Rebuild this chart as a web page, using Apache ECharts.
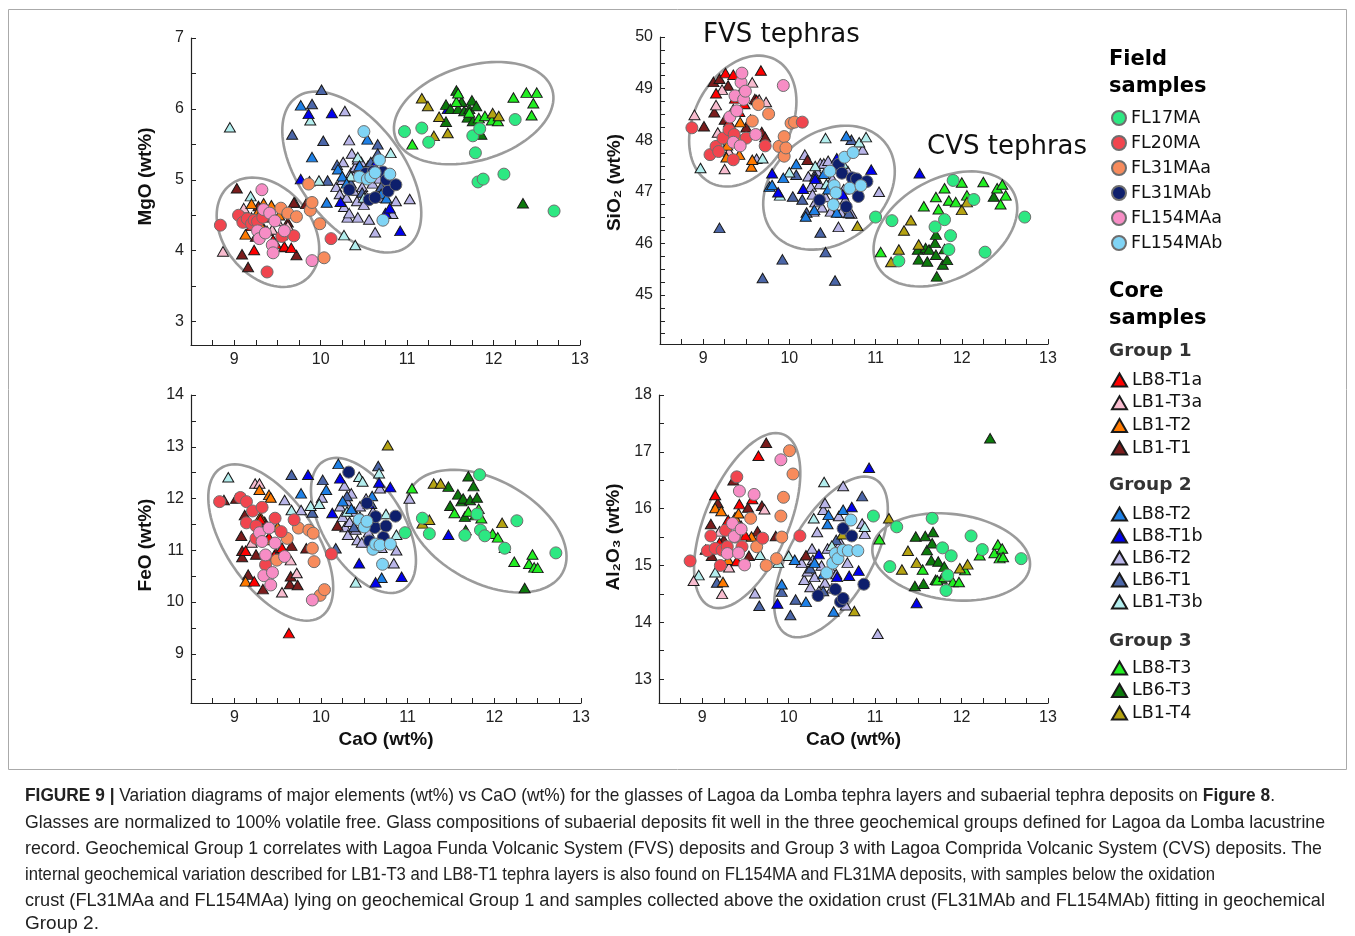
<!DOCTYPE html>
<html>
<head>
<meta charset="utf-8">
<script src="https://cdn.jsdelivr.net/npm/echarts@6/dist/echarts.min.js"></script>
<style>
html, body { margin: 0; padding: 0; background: #fff; }
#chart { position: absolute; left: 0; top: 0; width: 1355px; height: 936px; }
.cap { position: absolute; left: 25px; font-family: "Liberation Sans", Arial, sans-serif; font-size: 19px; line-height: 26px; color: #222; white-space: nowrap; transform-origin: 0 50%; }
</style>
</head>
<body>
<div id="chart"></div>
<div class="cap" data-w="1250" style="top:782px"><b>FIGURE 9 |</b> Variation diagrams of major elements (wt%) vs CaO (wt%) for the glasses of Lagoa da Lomba tephra layers and subaerial tephra deposits on <b>Figure 8</b>.</div>
<div class="cap" data-w="1300" style="top:809px">Glasses are normalized to 100% volatile free. Glass compositions of subaerial deposits fit well in the three geochemical groups defined for Lagoa da Lomba lacustrine</div>
<div class="cap" data-w="1297" style="top:835px">record. Geochemical Group 1 correlates with Lagoa Funda Volcanic System (FVS) deposits and Group 3 with Lagoa Comprida Volcanic System (CVS) deposits. The</div>
<div class="cap" data-w="1190" style="top:861px">internal geochemical variation described for LB1-T3 and LB8-T1 tephra layers is also found on FL154MA and FL31MA deposits, with samples below the oxidation</div>
<div class="cap" data-w="1300" style="top:887px">crust (FL31MAa and FL154MAa) lying on geochemical Group 1 and samples collected above the oxidation crust (FL31MAb and FL154MAb) fitting in geochemical</div>
<div class="cap" style="top:910px">Group 2.</div>
<script>
// each sample set: [CaO, oxide] pairs for the four diagrams
const FL17MA = {
    mgo: [[10.97,5.68],[11.17,5.73],[11.25,5.53],[11.76,5.62],[11.79,5.38],[11.84,5.72],[11.82,4.97],[11.88,5.01],[12.12,5.08],[12.25,5.85],[12.70,4.56]],
    sio2: [[11.00,46.51],[11.19,46.44],[11.27,45.66],[11.69,46.32],[11.80,46.46],[11.87,46.15],[11.85,45.88],[11.90,47.22],[12.14,46.85],[12.27,45.83],[12.73,46.51]],
    feo: [[10.97,11.34],[11.17,11.62],[11.25,11.32],[11.66,11.29],[11.80,11.70],[11.83,12.46],[11.84,11.39],[11.89,11.28],[12.12,11.04],[12.26,11.57],[12.71,10.95]],
    al2o3: [[10.98,15.87],[11.17,14.98],[11.25,15.68],[11.66,15.83],[11.78,15.31],[11.88,15.17],[11.84,14.83],[11.82,14.56],[12.11,15.52],[12.24,15.28],[12.69,15.12]]
};
const FL20MA = {
    mgo: [[8.84,4.36],[9.05,4.50],[9.10,4.40],[9.15,4.45],[9.20,4.38],[9.23,4.43],[9.27,4.41],[9.33,4.47],[9.38,3.70],[9.55,4.20],[9.69,4.21],[10.12,4.17]],
    sio2: [[8.87,48.24],[9.08,47.72],[9.15,47.88],[9.18,47.78],[9.23,48.04],[9.30,48.20],[9.35,47.62],[9.36,48.11],[9.50,48.04],[9.72,47.89],[10.15,48.35]],
    feo: [[8.83,11.94],[9.07,12.02],[9.14,11.94],[9.14,11.53],[9.21,11.76],[9.25,11.47],[9.25,11.23],[9.32,11.83],[9.36,10.72],[9.47,11.62],[9.54,11.36],[9.69,11.59],[10.12,10.93]],
    al2o3: [[8.86,15.08],[9.06,15.26],[9.10,15.52],[9.15,15.30],[9.21,15.00],[9.23,15.27],[9.27,15.62],[9.29,15.33],[9.38,15.50],[9.40,16.56],[9.46,15.33],[9.70,15.48],[10.13,15.52]]
};
const FL31MAa = {
    mgo: [[9.54,4.60],[9.62,4.53],[9.72,4.48],[9.86,4.94],[9.88,4.57],[9.90,4.68],[9.99,4.38],[10.04,3.90]],
    sio2: [[9.57,48.37],[9.64,48.69],[9.76,48.51],[9.88,47.88],[9.94,48.07],[9.94,47.69],[9.96,47.85],[10.02,48.33],[10.06,48.35]],
    feo: [[9.49,10.81],[9.61,11.23],[9.74,11.43],[9.86,11.39],[9.91,11.33],[9.90,11.04],[9.92,10.78],[9.99,10.13],[10.04,10.24]],
    al2o3: [[9.56,15.83],[9.63,15.33],[9.74,15.00],[9.86,15.12],[9.91,15.87],[9.92,15.50],[9.94,16.20],[10.01,17.02],[10.05,16.61]]
};
const FL31MAb = {
    mgo: [[10.33,4.86],[10.52,5.09],[10.56,4.72],[10.61,5.12],[10.63,4.75],[10.72,5.11],[10.76,5.00],[10.78,4.84],[10.87,4.93]],
    sio2: [[10.35,46.84],[10.57,47.53],[10.61,47.36],[10.66,46.71],[10.73,47.27],[10.80,46.91],[10.78,47.25],[10.90,47.20]],
    feo: [[10.32,12.51],[10.53,11.91],[10.56,11.18],[10.62,11.44],[10.63,11.65],[10.72,11.25],[10.75,11.47],[10.86,11.66]],
    al2o3: [[10.34,14.47],[10.54,14.58],[10.60,14.36],[10.63,14.42],[10.63,15.65],[10.73,15.52],[10.87,14.67]]
};
const FL154MAa = {
    mgo: [[9.27,4.28],[9.29,4.17],[9.32,4.86],[9.34,4.58],[9.36,4.25],[9.41,4.53],[9.44,4.08],[9.45,3.97],[9.47,4.42],[9.58,4.28],[9.90,3.86]],
    sio2: [[9.31,48.45],[9.35,47.96],[9.37,48.86],[9.39,48.57],[9.43,47.89],[9.44,49.12],[9.45,49.30],[9.47,48.79],[9.49,48.95],[9.61,48.11],[9.93,49.06]],
    feo: [[9.29,11.34],[9.32,11.17],[9.34,10.51],[9.36,10.91],[9.40,11.43],[9.42,10.33],[9.44,10.57],[9.47,11.14],[9.58,10.88],[9.90,10.04]],
    al2o3: [[9.29,15.21],[9.35,15.74],[9.37,15.51],[9.42,15.22],[9.43,16.31],[9.45,15.64],[9.49,15.01],[9.60,16.25],[9.91,16.86]]
};
const FL154MAb = {
    mgo: [[10.45,5.04],[10.50,5.68],[10.54,5.01],[10.58,5.04],[10.63,5.10],[10.68,5.28],[10.72,4.43],[10.80,5.08]],
    sio2: [[10.47,47.40],[10.51,46.75],[10.52,47.12],[10.54,46.98],[10.64,47.67],[10.70,47.07],[10.74,47.76],[10.83,47.12]],
    feo: [[10.44,11.59],[10.50,11.45],[10.53,11.56],[10.60,11.02],[10.63,11.12],[10.68,11.10],[10.71,10.73],[10.80,11.12]],
    al2o3: [[10.44,14.87],[10.51,15.04],[10.54,15.21],[10.57,15.12],[10.63,15.27],[10.69,15.26],[10.72,15.80],[10.80,15.26]]
};

// core samples (tephra layers)
const LB8_T1a = {
    mgo: [[9.10,4.48],[9.15,4.40],[9.20,4.35],[9.23,4.01],[9.30,4.52],[9.38,4.28],[9.45,4.15],[9.48,4.10],[9.55,4.22],[9.58,4.06],[9.66,4.04]],
    sio2: [[9.15,48.91],[9.26,49.30],[9.30,48.35],[9.35,49.27],[9.37,48.81],[9.42,48.55],[9.48,48.70],[9.55,48.40],[9.62,48.78],[9.67,49.35]],
    feo: [[9.13,10.99],[9.23,10.40],[9.30,11.60],[9.40,11.25],[9.46,10.90],[9.55,11.05],[9.63,9.40]],
    al2o3: [[9.15,16.24],[9.20,15.40],[9.30,15.80],[9.40,15.08],[9.43,16.08],[9.50,15.53],[9.58,16.17],[9.65,16.93]]
};
const LB1_T3a = {
    mgo: [[8.87,3.99],[9.11,4.60],[9.20,4.47],[9.44,4.30],[9.50,4.42],[9.62,4.35]],
    sio2: [[8.90,48.49],[9.15,48.68],[9.17,48.15],[9.22,48.98],[9.25,47.44],[9.30,47.78],[9.57,49.12],[9.65,48.79],[9.73,48.74]],
    feo: [[9.20,11.15],[9.24,12.29],[9.29,12.29],[9.55,10.19],[9.65,10.81],[9.72,10.56]],
    al2o3: [[8.90,14.73],[9.20,15.60],[9.23,14.50],[9.31,14.97],[9.72,15.99]]
};
const LB1_T2 = {
    mgo: [[9.13,4.23],[9.20,4.66],[9.26,4.52],[9.30,4.38],[9.34,4.67],[9.43,4.64],[9.52,4.50]],
    sio2: [[9.27,47.67],[9.28,47.90],[9.35,48.20],[9.41,48.06],[9.42,47.72],[9.43,48.35],[9.56,47.49],[9.57,47.62]],
    feo: [[9.13,10.40],[9.29,12.17],[9.30,11.65],[9.38,11.20],[9.40,12.07],[9.42,12.02],[9.50,11.45]],
    al2o3: [[9.15,16.01],[9.22,15.96],[9.24,14.71],[9.30,15.10],[9.38,15.85],[9.42,15.92],[9.57,15.51]]
};
const LB1_T1 = {
    mgo: [[9.03,4.88],[9.09,3.95],[9.15,4.45],[9.16,3.77],[9.25,4.20],[9.28,4.63],[9.35,4.30],[9.40,4.47],[9.45,4.12],[9.58,4.05],[9.62,4.40],[9.69,4.68],[9.72,3.94],[9.83,4.66]],
    sio2: [[9.01,48.27],[9.12,49.13],[9.13,48.54],[9.19,49.19],[9.25,48.40],[9.29,49.06],[9.35,48.60],[9.44,48.95],[9.50,48.25],[9.60,48.80],[9.68,48.16],[9.72,48.06],[10.21,47.62]],
    feo: [[8.88,11.97],[9.02,12.00],[9.08,11.28],[9.09,10.87],[9.09,10.99],[9.12,11.68],[9.16,10.53],[9.25,10.92],[9.33,10.25],[9.35,11.55],[9.48,10.95],[9.64,10.35],[9.65,10.50],[9.66,11.09],[9.73,10.33],[9.83,11.04],[10.19,11.48]],
    al2o3: [[9.04,15.28],[9.10,15.73],[9.11,15.17],[9.18,16.10],[9.25,15.45],[9.36,16.50],[9.45,15.70],[9.53,16.02],[9.54,15.17],[9.64,15.60],[9.67,15.52],[9.69,16.05],[9.74,17.16],[9.85,15.52],[10.20,15.18]]
};
const LB8_T2 = {
    mgo: [[9.77,6.05],[9.90,5.32],[10.07,4.68],[10.20,5.15],[10.25,5.05],[10.30,4.95],[10.45,5.20],[10.54,5.57],[10.70,4.80],[10.76,4.74]],
    sio2: [[9.77,47.10],[9.80,47.13],[9.93,47.27],[10.08,47.54],[10.19,46.52],[10.29,46.65],[10.40,47.35],[10.45,47.05],[10.55,46.60],[10.66,48.08]],
    feo: [[9.77,12.10],[10.06,12.17],[10.20,12.67],[10.25,11.95],[10.35,11.80],[10.50,11.55],[10.59,12.05],[10.70,10.47]],
    al2o3: [[9.92,14.67],[10.07,15.10],[10.20,14.36],[10.30,15.05],[10.40,14.85],[10.45,15.73],[10.46,15.89],[10.52,14.19],[10.63,15.98]]
};
const LB8_T1b = {
    mgo: [[9.77,5.01],[9.86,5.93],[10.13,5.94],[10.23,4.69],[10.50,5.05],[10.62,5.20],[10.75,4.53],[10.80,4.60],[10.92,4.28],[11.47,6.00]],
    sio2: [[9.80,47.36],[9.87,46.99],[10.16,47.06],[10.30,47.25],[10.55,47.65],[10.62,46.95],[10.70,47.10],[10.95,47.43],[11.51,47.36]],
    feo: [[9.85,12.46],[10.13,11.72],[10.22,12.39],[10.44,10.75],[10.55,11.90],[10.63,10.38],[10.67,12.31],[10.80,12.22],[10.93,10.49],[11.47,11.30]],
    al2o3: [[9.87,14.33],[10.35,15.20],[10.56,14.80],[10.70,14.82],[10.73,16.03],[10.81,14.91],[10.93,16.72],[11.48,14.34]]
};
const LB6_T2 = {
    mgo: [[10.18,4.90],[10.22,4.80],[10.25,5.00],[10.26,5.25],[10.27,4.62],[10.28,5.97],[10.30,4.75],[10.31,4.47],[10.33,5.56],[10.33,4.53],[10.35,5.10],[10.36,5.37],[10.38,4.85],[10.38,5.05],[10.40,5.18],[10.42,4.70],[10.43,5.29],[10.43,4.47],[10.47,5.25],[10.48,4.90],[10.50,4.65],[10.52,4.78],[10.55,5.20],[10.56,4.44],[10.60,4.95],[10.63,4.26],[10.65,4.80],[10.68,5.02],[10.72,4.75],[10.83,4.52],[10.87,4.70],[11.03,4.73]],
    sio2: [[9.62,47.64],[10.18,47.72],[10.22,47.30],[10.25,47.10],[10.27,46.95],[10.28,46.62],[10.30,46.80],[10.32,47.40],[10.35,47.15],[10.36,47.55],[10.38,46.70],[10.40,47.55],[10.42,46.90],[10.45,47.60],[10.48,46.62],[10.50,47.25],[10.52,46.85],[10.55,47.45],[10.57,46.32],[10.60,46.60],[10.63,47.05],[10.65,46.85],[10.68,47.40],[10.72,46.58],[10.85,47.82],[11.04,47.00]],
    feo: [[9.58,11.97],[9.77,11.78],[10.01,12.02],[10.22,11.85],[10.25,11.65],[10.27,12.25],[10.28,11.45],[10.30,11.95],[10.31,11.30],[10.33,11.55],[10.35,12.10],[10.38,11.75],[10.40,11.40],[10.42,11.20],[10.45,11.85],[10.47,11.15],[10.48,11.60],[10.52,12.00],[10.55,11.35],[10.60,11.75],[10.63,11.50],[10.68,12.20],[10.70,11.05],[10.84,10.75],[10.87,11.00],[11.02,12.00]],
    al2o3: [[9.61,14.51],[10.15,15.05],[10.18,14.75],[10.22,14.90],[10.25,14.62],[10.27,15.30],[10.28,15.10],[10.30,14.80],[10.33,15.59],[10.35,14.55],[10.38,15.00],[10.40,15.98],[10.42,16.10],[10.42,14.70],[10.45,15.30],[10.48,14.95],[10.50,14.60],[10.52,15.15],[10.55,14.85],[10.58,15.87],[10.60,15.40],[10.63,16.40],[10.66,14.30],[10.68,15.05],[10.85,15.74],[10.88,15.56],[11.03,13.80]]
};
const LB6_T1 = {
    mgo: [[9.67,5.64],[9.87,4.98],[9.90,6.07],[10.01,6.27],[10.03,5.55],[10.08,4.99],[10.19,5.21],[10.35,4.95],[10.48,4.82],[10.58,5.25],[10.66,5.50],[10.66,5.37],[10.70,4.90]],
    sio2: [[9.19,46.30],[9.69,45.33],[9.92,45.69],[10.04,46.91],[10.08,47.33],[10.15,46.85],[10.20,46.60],[10.30,47.30],[10.36,46.21],[10.42,45.83],[10.53,45.28],[10.58,47.00],[10.69,46.59],[10.72,48.01]],
    feo: [[9.66,12.46],[9.90,11.73],[10.02,12.36],[10.17,11.04],[10.30,12.05],[10.38,11.45],[10.45,11.65],[10.58,11.90],[10.66,12.63]],
    al2o3: [[9.17,14.70],[9.66,14.29],[9.92,14.54],[10.02,14.13],[10.08,14.40],[10.25,14.95],[10.40,14.55],[10.55,15.45],[10.85,16.22]]
};
const LB1_T3b = {
    mgo: [[8.95,5.74],[9.19,4.77],[9.70,4.68],[9.88,5.84],[9.98,4.99],[10.27,4.22],[10.35,5.05],[10.40,4.08],[10.43,5.32],[10.50,4.75],[10.60,5.15],[10.81,5.38]],
    sio2: [[8.97,47.46],[9.21,47.90],[9.69,47.65],[9.89,46.93],[10.00,47.38],[10.30,47.50],[10.42,48.04],[10.43,47.15],[10.62,47.55],[10.81,47.96],[10.89,48.06]],
    feo: [[8.93,12.41],[9.66,11.78],[9.88,11.86],[9.98,11.90],[10.30,11.75],[10.40,10.38],[10.44,12.42],[10.48,12.33],[10.67,12.49],[10.75,11.70],[10.87,11.30]],
    al2o3: [[8.96,14.83],[9.15,14.88],[9.67,15.19],[9.88,15.05],[10.00,15.17],[10.29,15.83],[10.41,16.47],[10.50,15.35],[10.88,15.68]]
};
const LB8_T3 = {
    mgo: [[11.06,5.50],[11.57,6.10],[11.59,6.22],[11.72,5.95],[11.83,5.87],[11.90,5.90],[11.98,5.84],[12.05,5.83],[12.23,6.16],[12.38,6.23],[12.44,5.91],[12.46,6.08],[12.50,6.23]],
    sio2: [[11.06,45.83],[11.56,46.72],[11.70,46.90],[11.73,46.66],[11.80,47.07],[11.85,46.83],[11.93,46.80],[12.00,47.18],[12.06,46.93],[12.25,47.19],[12.41,47.07],[12.45,46.76],[12.47,47.14],[12.51,46.93]],
    feo: [[11.05,12.20],[11.54,11.72],[11.70,11.75],[11.82,11.80],[11.85,11.62],[11.98,11.32],[12.04,11.25],[12.23,10.78],[12.40,10.74],[12.44,10.92],[12.46,10.67],[12.50,10.66]],
    al2o3: [[11.05,15.46],[11.55,14.93],[11.72,14.74],[11.80,14.80],[11.90,14.71],[11.97,14.71],[12.04,14.92],[12.21,15.18],[12.38,15.22],[12.42,15.37],[12.44,15.13],[12.47,15.30],[12.48,15.15]]
};
const LB6_T3 = {
    mgo: [[11.45,6.06],[11.45,5.82],[11.50,6.00],[11.57,6.26],[11.59,6.00],[11.63,6.10],[11.66,5.97],[11.70,5.88],[11.72,6.00],[11.75,6.12],[11.76,5.83],[11.80,6.04],[11.86,5.64],[12.34,4.67]],
    sio2: [[11.49,45.88],[11.50,45.69],[11.58,45.91],[11.60,45.65],[11.62,45.88],[11.69,46.01],[11.70,46.17],[11.70,45.78],[11.71,45.36],[11.78,45.59],[11.80,45.89],[11.83,45.68],[12.37,46.91]],
    feo: [[11.47,12.23],[11.49,11.86],[11.58,12.08],[11.62,11.95],[11.64,12.00],[11.66,11.65],[11.67,11.39],[11.70,12.43],[11.72,11.97],[11.76,12.24],[11.78,11.68],[11.80,12.02],[12.35,10.27]],
    al2o3: [[11.46,14.64],[11.47,15.51],[11.56,14.68],[11.58,15.52],[11.60,15.27],[11.65,15.09],[11.66,15.39],[11.67,15.59],[11.70,14.75],[11.73,15.07],[11.77,14.77],[11.80,14.98],[12.33,17.24]]
};
const LB1_T4 = {
    mgo: [[11.17,6.15],[11.24,6.04],[11.31,5.62],[11.37,5.89],[11.47,5.66],[11.99,5.94],[12.06,5.90]],
    sio2: [[10.79,46.34],[11.18,45.64],[11.27,45.88],[11.33,46.25],[11.41,46.45],[11.50,45.98],[12.00,46.65],[12.06,46.80]],
    feo: [[10.77,13.03],[11.17,11.52],[11.25,11.59],[11.30,12.29],[11.38,12.29],[12.09,11.53],[12.12,11.05]],
    al2o3: [[10.62,15.55],[10.76,14.20],[11.16,15.83],[11.31,14.93],[11.38,15.26],[11.48,15.05],[11.98,14.95],[12.07,15.02]]
};

const fieldNames = ['FL17MA', 'FL20MA', 'FL31MAa', 'FL31MAb', 'FL154MAa', 'FL154MAb'];
const group1Names = ['LB8-T1a', 'LB1-T3a', 'LB1-T2', 'LB1-T1'];
const group2Names = ['LB8-T2', 'LB8-T1b', 'LB6-T2', 'LB6-T1', 'LB1-T3b'];
const group3Names = ['LB8-T3', 'LB6-T3', 'LB1-T4'];

const xLabels = [9, 10, 11, 12, 13];

// compositional fields drawn round each group (centre in data units, radii in px, tilt in deg)
const ellipses = [
    { panel: 0, c: [9.39, 4.26], a: 60.6, b: 44.1, rot: 51 },
    { panel: 0, c: [10.36, 5.11], a: 93, b: 51.6, rot: 53 },
    { panel: 0, c: [11.77, 5.94], a: 82, b: 47.5, rot: -16.5 },
    { panel: 1, c: [9.46, 48.37], a: 69.6, b: 48.2, rot: -62 },
    { panel: 1, c: [10.46, 47.08], a: 71.9, b: 54.8, rot: -38.5 },
    { panel: 1, c: [11.81, 46.28], a: 77.3, b: 50, rot: -28.9 },
    { panel: 2, c: [9.42, 11.15], a: 89.6, b: 44.5, rot: 55.7 },
    { panel: 2, c: [10.49, 11.48], a: 75.6, b: 40, rot: 58 },
    { panel: 2, c: [11.91, 11.37], a: 86.7, b: 51.4, rot: 28.6 },
    { panel: 3, c: [9.52, 15.79], a: 93.5, b: 41.8, rot: -66.9 },
    { panel: 3, c: [10.49, 15.15], a: 89.4, b: 41.1, rot: -60.4 },
    { panel: 3, c: [11.88, 15.15], a: 79.3, b: 42.9, rot: 7.1 }
];

const panels = [
    { key: 'mgo', name: 'MgO (wt%)', min: 2.67, max: 7, step: 0.5, labels: [3, 4, 5, 6, 7], pad: 30, xName: '',
      grid: { left: 191, top: 38, width: 389, height: 307 } },
    { key: 'sio2', name: 'SiO\u2082 (wt%)', min: 44.05, max: 50, step: 0.25, labels: [45, 46, 47, 48, 49, 50], pad: 16, xName: '',
      grid: { left: 660, top: 37, width: 388, height: 307 } },
    { key: 'feo', name: 'FeO (wt%)', min: 8.05, max: 14, step: 0.5, labels: [9, 10, 11, 12, 13, 14], pad: 8, xName: 'CaO (wt%)',
      grid: { left: 191, top: 395, width: 390, height: 308 } },
    { key: 'al2o3', name: 'Al\u2082O\u2083 (wt%)', min: 12.58, max: 18, step: 0.5, labels: [13, 14, 15, 16, 17, 18], pad: 24, xName: 'CaO (wt%)',
      grid: { left: 659, top: 395, width: 389, height: 308 } }
];

const coreSets = [
    ['LB6-T2', LB6_T2, '#b9b5e8'],
    ['LB6-T1', LB6_T1, '#4b66a8'],
    ['LB1-T3b', LB1_T3b, '#b3eeee'],
    ['LB8-T2', LB8_T2, '#1e80e6'],
    ['LB8-T1b', LB8_T1b, '#0000ee'],
    ['LB1-T1', LB1_T1, '#7b1c1c'],
    ['LB1-T3a', LB1_T3a, '#f8bccf'],
    ['LB1-T2', LB1_T2, '#ff7a00'],
    ['LB8-T1a', LB8_T1a, '#ff0000'],
    ['LB6-T3', LB6_T3, '#0c7a0c'],
    ['LB8-T3', LB8_T3, '#22ee22'],
    ['LB1-T4', LB1_T4, '#b5a312']
];
const fieldSets = [
    ['FL31MAa', FL31MAa, '#f78b5c'],
    ['FL20MA', FL20MA, '#f1454e'],
    ['FL154MAa', FL154MAa, '#f78dc5'],
    ['FL31MAb', FL31MAb, '#0e1f6c'],
    ['FL154MAb', FL154MAb, '#80d4f5'],
    ['FL17MA', FL17MA, '#2de882']
];

const steps = (from, to, step) => {
    const out = [];
    for (let v = Math.ceil(from / step - 1e-9) * step; v <= to + 1e-9; v += step) out.push(+v.toFixed(3));
    return out;
};

const tickFont = { fontFamily: 'Liberation Sans, Arial, sans-serif', fontSize: 16, color: '#222' };
const nameFont = { fontFamily: 'Liberation Sans, Arial, sans-serif', fontSize: 19, fontWeight: 'bold', color: '#111' };
const axisLine = { onZero: false, lineStyle: { color: '#222', width: 1.2 } };

const grid = [], xAxis = [], yAxis = [], series = [];

panels.forEach((p, i) => {
    grid.push(p.grid);
    xAxis.push({
        gridIndex: i, type: 'value', min: 8.5, max: 13,
        name: p.xName, nameLocation: 'middle', nameGap: 27, nameTextStyle: nameFont,
        axisLine, splitLine: { show: false },
        axisTick: { inside: true, length: 5, lineStyle: { color: '#222' }, customValues: steps(8.75, 13, 0.25) },
        axisLabel: Object.assign({ margin: 7, customValues: xLabels }, tickFont)
    });
    yAxis.push({
        gridIndex: i, type: 'value', min: p.min, max: p.max,
        name: p.name, nameLocation: 'middle', nameGap: 36,
        nameTextStyle: Object.assign({ padding: [0, 0, 0, p.pad] }, nameFont),
        axisLine, splitLine: { show: false },
        axisTick: { inside: true, length: 5, lineStyle: { color: '#222' }, customValues: steps(p.min, p.max, p.step) },
        axisLabel: Object.assign({ margin: 7, customValues: p.labels }, tickFont)
    });

    ellipses.filter((e) => e.panel === i).forEach((e) => {
        series.push({
            type: 'custom', xAxisIndex: i, yAxisIndex: i, silent: true, z: 1, clip: false,
            data: [e.c],
            renderItem: (params, api) => {
                const c = api.coord([api.value(0), api.value(1)]);
                const r = e.rot * Math.PI / 180;
                const pts = [];
                for (let k = 0; k <= 96; k++) {
                    const t = k / 96 * Math.PI * 2;
                    const ex = e.a * Math.cos(t), ey = e.b * Math.sin(t);
                    pts.push([c[0] + ex * Math.cos(r) - ey * Math.sin(r), c[1] + ex * Math.sin(r) + ey * Math.cos(r)]);
                }
                return { type: 'polygon', shape: { points: pts }, style: { fill: 'none', stroke: '#9b9b9b', lineWidth: 2.6 } };
            }
        });
    });

    coreSets.forEach(([name, set, color]) => {
        series.push({
            name, type: 'scatter', xAxisIndex: i, yAxisIndex: i, z: 2,
            symbol: 'triangle', symbolSize: [11, 9.5],
            itemStyle: { color, borderColor: '#1a1a1a', borderWidth: 1, opacity: 1 },
            data: set[p.key]
        });
    });
    fieldSets.forEach(([name, set, color]) => {
        series.push({
            name, type: 'scatter', xAxisIndex: i, yAxisIndex: i, z: 3,
            symbol: 'circle', symbolSize: 12,
            itemStyle: { color, borderColor: '#6e6e6e', borderWidth: 1, opacity: 1 },
            data: set[p.key]
        });
    });
});

const legendText = { fontFamily: 'DejaVu Sans, sans-serif', fontSize: 17.5, color: '#111' };
const legendBase = { orient: 'vertical', left: 1111, selectedMode: false, textStyle: legendText, padding: 0 };
const legend = [
    Object.assign({ data: fieldNames, top: 109, itemGap: 7, itemWidth: 14, itemHeight: 14 }, legendBase),
    Object.assign({ data: group1Names, top: 371, itemGap: 4.7, itemWidth: 15, itemHeight: 13 }, legendBase),
    Object.assign({ data: group2Names, top: 505, itemGap: 4, itemWidth: 15, itemHeight: 13 }, legendBase),
    Object.assign({ data: group3Names, top: 659, itemGap: 4.5, itemWidth: 15, itemHeight: 13 }, legendBase)
];

const heading = (text, top, size, fill) => ({
    type: 'text', left: 1109, top,
    style: { text, fontFamily: 'DejaVu Sans, sans-serif', fontWeight: 'bold', fontSize: size, fill }
});

const graphic = [
    { type: 'rect', shape: { x: 8.5, y: 9.5, width: 1338, height: 760 }, style: { fill: 'none', stroke: '#aaa', lineWidth: 1 }, z: -1 },
    heading('Field', 49, 21, '#000'),
    heading('samples', 76, 21, '#000'),
    heading('Core', 281, 21, '#000'),
    heading('samples', 308, 21, '#000'),
    heading('Group 1', 342, 18.5, '#333'),
    heading('Group 2', 476, 18.5, '#333'),
    heading('Group 3', 632, 18.5, '#333'),
    { type: 'text', left: 703, top: 22, style: { text: 'FVS tephras', fontFamily: 'DejaVu Sans, sans-serif', fontSize: 26, fill: '#111' } },
    { type: 'text', left: 927, top: 134, style: { text: 'CVS tephras', fontFamily: 'DejaVu Sans, sans-serif', fontSize: 26, fill: '#111' } }
];

const myChart = echarts.init(document.getElementById('chart'));
myChart.setOption({
    animation: false,
    backgroundColor: '#fff',
    grid, xAxis, yAxis, legend, graphic, series
});

// fit each caption line to the width it takes in the printed figure
document.querySelectorAll('.cap').forEach((el) => {
    const target = +el.dataset.w;
    if (!target) return;
    const w = el.getBoundingClientRect().width;
    el.style.transform = `scaleX(${(target / w).toFixed(4)})`;
});
</script>
</body>
</html>
